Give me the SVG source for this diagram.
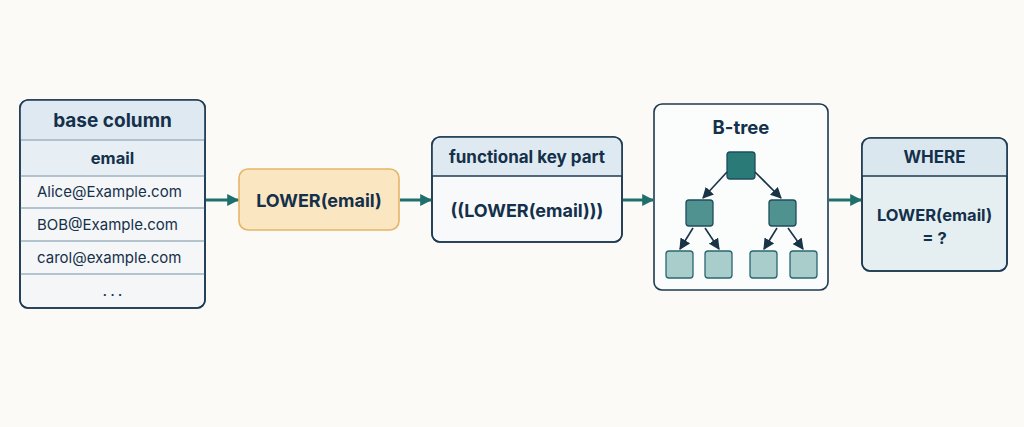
<svg xmlns="http://www.w3.org/2000/svg" width="1024" height="427" viewBox="0 0 1024 427">
<defs>
<marker id="ah" viewBox="0 0 10 10" refX="9" refY="5" markerWidth="4" markerHeight="4" orient="auto" markerUnits="strokeWidth"><path d="M0,0 L10,5 L0,10 z" fill="#1f6f6c"/></marker>
<marker id="ahs" viewBox="0 0 10 10" refX="9" refY="5" markerWidth="7" markerHeight="7" orient="auto" markerUnits="strokeWidth"><path d="M0,0 L10,5 L0,10 z" fill="#1b3346"/></marker>
<style>
.box{stroke:#1e3a52;stroke-width:1.6}
.div{stroke:#9fb3c2;stroke-width:1.5}
.t{font-family:Inter,"Liberation Sans",sans-serif;fill:#14304a}
.b{font-weight:700}
.c{text-anchor:middle}
.flow{stroke:#1f6f6c;stroke-width:3;fill:none;marker-end:url(#ah)}
.edge{stroke:#1b3346;stroke-width:1.6;fill:none;marker-end:url(#ahs)}
.n1{fill:#2a7a78;stroke:#1e4d5c;stroke-width:1.3}
.n2{fill:#4f9290;stroke:#1e4d5c;stroke-width:1.3}
.n3{fill:#a9cdcb;stroke:#2a6670;stroke-width:1.3}
</style>
</defs>
<rect width="1024" height="427" fill="#fbfaf6"/>

<g id="base-column">
<rect x="20" y="100" width="185" height="208" rx="8" fill="#f4f6f7" class="box"/>
<path d="M20,140 V108 a8,8 0 0 1 8,-8 H197 a8,8 0 0 1 8,8 V140 z" fill="#dfe9f1"/>
<rect x="20.8" y="140" width="183.4" height="36" fill="#e7eef4"/>
<line x1="20" y1="140" x2="205" y2="140" class="div"/>
<line x1="20" y1="176" x2="205" y2="176" class="div"/>
<line x1="20" y1="208" x2="205" y2="208" class="div"/>
<line x1="20" y1="241" x2="205" y2="241" class="div"/>
<line x1="20" y1="274" x2="205" y2="274" class="div"/>
<rect x="20" y="100" width="185" height="208" rx="8" fill="none" class="box"/>
<text x="112.5" y="127" class="t b c" font-size="19">base column</text>
<text x="112.5" y="164" class="t b c" font-size="16.5">email</text>
<text x="37" y="197" class="t" font-size="15" letter-spacing="0">Alice@Example.com</text>
<text x="37" y="230" class="t" font-size="15">BOB@Example.com</text>
<text x="37" y="263" class="t" font-size="15">carol@example.com</text>
<text x="114" y="296" class="t c" font-size="16" letter-spacing="3">...</text>
</g>

<g id="lower-fn">
<rect x="239" y="169" width="160" height="61" rx="9" fill="#fbe6c2" stroke="#e6b567" stroke-width="1.6"/>
<text x="319" y="206.5" class="t b c" font-size="18">LOWER(email)</text>
</g>

<g id="functional-key-part">
<rect x="432" y="137" width="190" height="105" rx="8" fill="#f7f9fa" class="box"/>
<path d="M432,176 V145 a8,8 0 0 1 8,-8 H614 a8,8 0 0 1 8,8 V176 z" fill="#dfe9f1"/>
<line x1="432" y1="176" x2="622" y2="176" stroke="#1e3a52" stroke-width="1.3"/>
<rect x="432" y="137" width="190" height="105" rx="8" fill="none" class="box"/>
<text x="527" y="163" class="t b c" font-size="17">functional key part</text>
<text x="527" y="216.5" class="t b c" font-size="18">((LOWER(email)))</text>
</g>

<g id="b-tree">
<rect x="654" y="104" width="174" height="186" rx="8" fill="#fbfcfc" class="box"/>
<text x="741" y="134" class="t b c" font-size="18.5">B-tree</text>
<rect x="727" y="152" width="28" height="27" rx="3" class="n1"/>
<rect x="686" y="200" width="27" height="26" rx="3" class="n2"/>
<rect x="769" y="200" width="27" height="26" rx="3" class="n2"/>
<rect x="666" y="251" width="27" height="27" rx="3" class="n3"/>
<rect x="705" y="251" width="27" height="27" rx="3" class="n3"/>
<rect x="750" y="251" width="27" height="27" rx="3" class="n3"/>
<rect x="790" y="251" width="27" height="27" rx="3" class="n3"/>
<line x1="727" y1="172" x2="703" y2="198" class="edge"/>
<line x1="755" y1="172" x2="781" y2="198" class="edge"/>
<line x1="693" y1="228" x2="680" y2="249" class="edge"/>
<line x1="705" y1="228" x2="719" y2="249" class="edge"/>
<line x1="777" y1="228" x2="764" y2="249" class="edge"/>
<line x1="788" y1="228" x2="803" y2="249" class="edge"/>
</g>

<g id="where">
<rect x="862" y="138" width="145" height="133" rx="8" fill="#e5eff1" class="box"/>
<path d="M862,176 V146 a8,8 0 0 1 8,-8 H999 a8,8 0 0 1 8,8 V176 z" fill="#dbe7ef"/>
<line x1="862" y1="176" x2="1007" y2="176" stroke="#1e3a52" stroke-width="1.3"/>
<rect x="862" y="138" width="145" height="133" rx="8" fill="none" class="box"/>
<text x="934.5" y="163" class="t b c" font-size="17">WHERE</text>
<text x="934.5" y="221" class="t b c" font-size="16.5">LOWER(email)</text>
<text x="934.5" y="244" class="t b c" font-size="16.5">= ?</text>
</g>

<g id="connectors">
<line x1="206" y1="200" x2="238" y2="200" class="flow"/>
<line x1="400" y1="200" x2="431" y2="200" class="flow"/>
<line x1="623" y1="200" x2="653" y2="200" class="flow"/>
<line x1="829" y1="200" x2="861" y2="200" class="flow"/>
</g>
</svg>
